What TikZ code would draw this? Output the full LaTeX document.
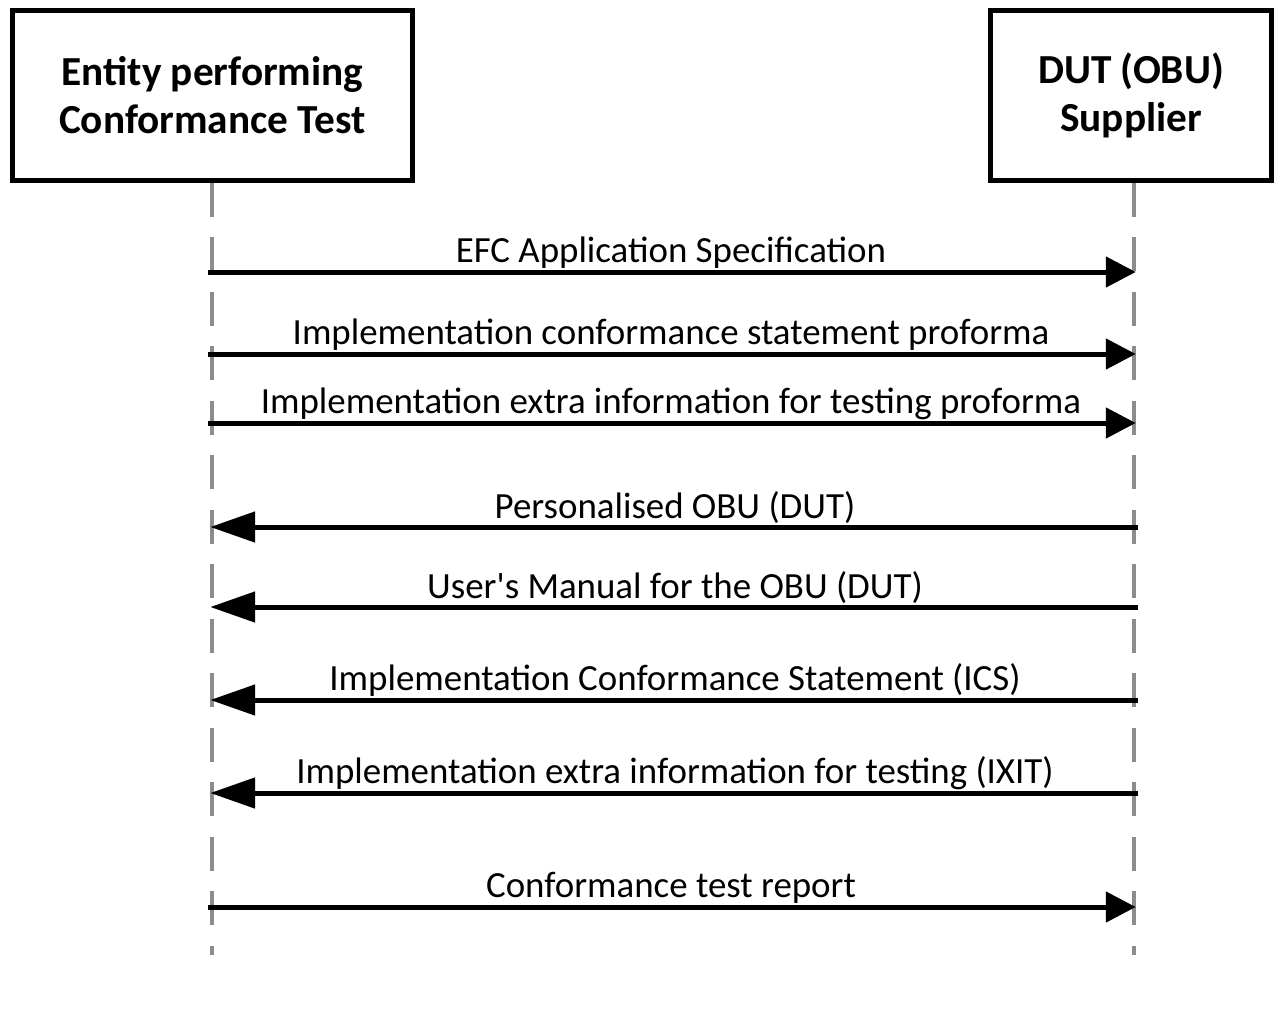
\documentclass[tikz,border=0pt]{standalone}
\usepackage{fontspec}
\setmainfont{Carlito}
\usetikzlibrary{arrows.meta}

\begin{document}
\begin{tikzpicture}[x=0.02cm, y=-0.02cm, every node/.style={font=\fontsize{21}{25}\selectfont},
	actor/.style={draw, line width=0.1cm, minimum height=3.4cm, align=center, font=\fontsize{23.5}{27.3}\selectfont\bfseries},
	life/.style={draw=black!45, line width=0.08cm, dash pattern=on 0.68cm off 0.41cm},
	toright/.style={line width=0.1cm, -{Triangle[length=0.6cm, width=0.6cm]}, shorten >=-1pt},
	toleft/.style={line width=0.1cm, -{Triangle[length=0.9cm, width=0.6cm]}, shorten >=-1pt}]
	\useasboundingbox (0,0) rectangle (1275,1029);
	\node[actor, minimum width=8cm] (ent) at (212.5,95.5) {Entity performing\\Conformance Test};
	\node[actor, minimum width=5.62cm] (sup) at (1131,95.5) {DUT (OBU)\\Supplier};
	\coordinate (entEnd) at (212,955);
	\coordinate (supEnd) at (1134,955);
	\draw[life] (212,183) -- (entEnd);
	\draw[life] (1134,183) -- (supEnd);
	% messages towards the supplier
	\foreach \y/\txt [count=\i] in {272/EFC Application Specification, 354/Implementation conformance statement proforma, 423/Implementation extra information for testing proforma, 907/Conformance test report} {
		\coordinate (r\i a) at (208,\y);
		\coordinate (r\i b) at (1134,\y);
		\draw[toright] (r\i a) -- (r\i b) node[midway, above=-2.7pt] {\txt};
	}
	% messages back to the test entity
	\foreach \y/\txt [count=\i] in {527/Personalised OBU (DUT), 607/User\textquotesingle s Manual for the OBU (DUT), 700/Implementation Conformance Statement (ICS), 793/Implementation extra information for testing (IXIT)} {
		\coordinate (l\i a) at (1138,\y);
		\coordinate (l\i b) at (212,\y);
		\draw[toleft] (l\i a) -- (l\i b) node[midway, above=-2.7pt] {\txt};
	}
\end{tikzpicture}
\end{document}
